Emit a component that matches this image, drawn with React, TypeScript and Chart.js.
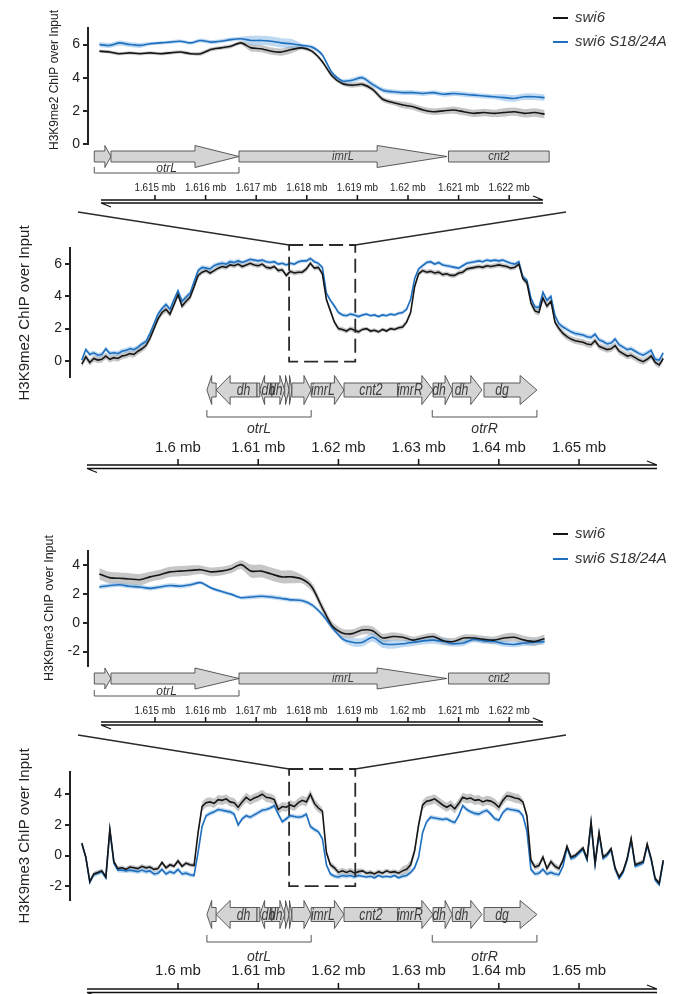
import React, { useEffect, useRef } from "react";
import { Chart, registerables } from "chart.js";

Chart.register(...registerables);

// ---------------------------------------------------------------------------
// Data
// ---------------------------------------------------------------------------
const SERIES_LABELS = ["swi6", "swi6 S18/24A"];

// Genomic bins (kb on chromosome)
const ZOOM_BIN_START_KB = 1613.9;
const ZOOM_BIN_KB = 0.2;
const WIDE_BIN_START_KB = 1588.0;
const WIDE_BIN_KB = 0.5;

// H3K9me2, zoomed window (otrL / imrL / cnt2 junction)
const ME2_ZOOM_SWI6 = [
  5.6, 5.55, 5.45, 5.5, 5.45, 5.5, 5.45, 5.5, 5.55, 5.45,
  5.45, 5.7, 5.8, 5.9, 6.1, 5.8, 5.75, 5.6, 5.55, 5.7,
  5.8, 5.6, 5.0, 4.1, 3.65, 3.55, 3.6, 3.3, 2.7, 2.5,
  2.35, 2.25, 2.05, 1.95, 2.0, 2.05, 1.95, 1.85, 1.9, 1.85,
  1.9, 1.95, 1.85, 1.9, 1.8,
];
const ME2_ZOOM_S1824A = [
  6.0, 5.95, 6.1, 6.0, 5.95, 6.05, 6.1, 6.15, 6.2, 6.1,
  6.25, 6.15, 6.2, 6.3, 6.35, 6.25, 6.25, 6.2, 6.1, 6.05,
  5.95, 5.85, 5.4, 4.3, 3.8, 3.85, 4.0, 3.6, 3.25, 3.15,
  3.1, 3.1, 3.05, 3.1, 3.0, 3.05, 3.0, 2.95, 2.9, 2.85,
  2.8, 2.75, 2.85, 2.85, 2.8,
];
const ME2_ZOOM_SWI6_SE = [0.1, 0.1, 0.12, 0.22, 0.12, 0.15, 0.2, 0.22, 0.25];
const ME2_ZOOM_S1824A_SE = [0.15, 0.1, 0.12, 0.28, 0.12, 0.15, 0.15, 0.15, 0.2];

// H3K9me2, whole centromere 2 left/right region
const ME2_WIDE_SWI6 = [
  -0.2, 0.25, -0.1, 0.15, 0.05, 0.1, 0.3, 0.1, 0.2, 0.15,
  0.3, 0.35, 0.45, 0.4, 0.6, 0.75, 0.95, 1.4, 2.0, 2.6,
  3.0, 3.2, 2.9, 3.5, 4.1, 3.4, 3.7, 3.95, 4.6, 5.3,
  5.5, 5.6, 5.45, 5.6, 5.75, 5.85, 5.8, 5.95, 5.9, 6.0,
  5.85, 5.95, 6.05, 5.95, 5.9, 6.0, 5.8, 5.75, 5.85, 5.6,
  5.65, 5.3, 5.55, 5.45, 5.5, 5.5, 5.7, 6.05, 5.75, 5.8,
  5.4, 3.8, 3.1, 2.4, 2.0, 1.95, 1.85, 2.0, 1.9, 1.8,
  1.95, 2.0, 1.85, 1.9, 1.8, 1.95, 1.85, 2.0, 1.95, 2.05,
  2.1, 2.4, 3.0, 4.6, 5.4, 5.6, 5.5, 5.55, 5.45, 5.5,
  5.35, 5.4, 5.3, 5.3, 5.45, 5.5, 5.7, 5.75, 5.8, 5.85,
  5.8, 5.9, 5.85, 5.9, 5.95, 5.9, 5.85, 5.75, 5.8, 6.0,
  5.1, 4.85, 3.6, 3.1, 3.0, 3.9, 3.4, 3.7, 2.4, 2.0,
  1.7, 1.5, 1.35, 1.25, 1.2, 1.15, 1.05, 1.0, 1.25, 0.9,
  0.8, 0.7, 0.75, 0.95, 0.6, 0.45, 0.3, 0.35, 0.2, 0.05,
  -0.05, 0.1, 0.3, -0.1, -0.25, 0.15,
];
const ME2_WIDE_S1824A = [
  0.05, 0.7, 0.4, 0.5, 0.35, 0.4, 0.75, 0.45, 0.5, 0.45,
  0.6, 0.65, 0.75, 0.7, 0.85, 1.05, 1.2, 1.7, 2.3, 2.9,
  3.25, 3.5, 3.2, 3.8, 4.35, 3.7, 3.95, 4.2, 4.9, 5.6,
  5.8, 5.75, 5.7, 5.9, 6.0, 6.05, 6.0, 6.15, 6.1, 6.2,
  6.1, 6.2, 6.3, 6.25, 6.2, 6.25, 6.15, 6.1, 6.15, 6.0,
  6.05, 5.95, 6.05, 6.0, 6.15, 6.2, 6.2, 6.35, 6.15, 6.05,
  5.8, 4.2, 3.75, 3.4, 3.0, 2.85, 2.8, 2.9, 2.85, 2.75,
  2.85, 2.9, 2.8, 2.85, 2.75, 2.85, 2.8, 2.9, 2.85, 2.95,
  3.0, 3.2, 3.8, 5.1, 5.7, 5.9, 6.1, 6.15, 6.0, 6.1,
  5.95, 5.9, 5.85, 5.8, 5.75, 5.9, 6.05, 6.1, 6.15, 6.2,
  6.15, 6.25, 6.2, 6.25, 6.2, 6.25, 6.15, 6.05, 6.0, 6.15,
  5.2, 5.0, 3.9, 3.35, 3.3, 4.25, 3.75, 4.0, 2.8, 2.3,
  2.1, 1.95, 1.8, 1.7, 1.65, 1.6, 1.5, 1.45, 1.65, 1.3,
  1.2, 1.05, 1.1, 1.35, 1.0, 0.85, 0.7, 0.75, 0.6, 0.45,
  0.35, 0.5, 0.65, 0.1, 0.05, 0.5,
];
const ME2_WIDE_SWI6_SE = [0.2, 0.2, 0.2, 0.15, 0.15, 0.15, 0.15, 0.12, 0.15, 0.15, 0.15, 0.2, 0.2, 0.2, 0.2];
const ME2_WIDE_S1824A_SE = [0.15, 0.15, 0.15, 0.15, 0.12, 0.12, 0.12, 0.1, 0.12, 0.12, 0.12, 0.15, 0.15, 0.15, 0.15];

// H3K9me3, zoomed window
const ME3_ZOOM_SWI6 = [
  3.4, 3.15, 3.1, 3.05, 3.0, 3.2, 3.35, 3.55, 3.6, 3.65,
  3.7, 3.55, 3.6, 3.75, 4.05, 3.6, 3.6, 3.4, 3.2, 3.2,
  3.05, 2.5, 1.1, -0.2, -0.7, -0.75, -0.5, -0.55, -1.05, -0.95,
  -1.0, -1.2, -1.05, -0.95, -1.25, -1.3, -1.05, -1.05, -1.15, -1.2,
  -1.05, -1.0, -1.2, -1.3, -1.1,
];
const ME3_ZOOM_S1824A = [
  2.5, 2.6, 2.65, 2.55, 2.5, 2.4, 2.5, 2.6, 2.55, 2.65,
  2.8, 2.45, 2.2, 2.0, 1.75, 1.8, 1.85, 1.8, 1.7, 1.6,
  1.55, 1.25, 0.6, -0.3, -1.1, -1.35, -1.35, -1.0, -1.45, -1.5,
  -1.45, -1.35, -1.25, -1.2, -1.3, -1.45, -1.4, -1.15, -1.25, -1.3,
  -1.45, -1.5, -1.4, -1.35, -1.3,
];
const ME3_ZOOM_SWI6_SE = [0.4, 0.35, 0.3, 0.45, 0.3, 0.3, 0.25, 0.25, 0.3];
const ME3_ZOOM_S1824A_SE = [0.15, 0.15, 0.12, 0.15, 0.15, 0.3, 0.25, 0.2, 0.2];

// H3K9me3, whole region
const ME3_WIDE_SWI6 = [
  0.8, -0.1, -1.7, -1.2, -1.1, -1.0, -1.4, 1.7, -0.4, -0.85,
  -0.8, -0.9, -0.75, -0.8, -0.85, -0.7, -0.8, -0.75, -0.9, -0.85,
  -0.45, -0.8, -0.6, -0.7, -0.35, -0.7, -0.5, -0.6, -0.65, 1.5,
  3.2, 3.45, 3.5, 3.4, 3.65, 3.6, 3.7, 3.5, 3.45, 3.15,
  3.5, 3.8, 3.6, 3.75, 3.85, 4.0, 3.8, 3.75, 3.65, 3.0,
  3.2, 3.15, 3.3, 3.2, 3.45, 3.6, 3.5, 4.0, 3.4, 3.1,
  2.9, 0.2, -0.6, -0.8, -1.1, -1.0, -1.1, -1.0, -1.15, -1.05,
  -1.0, -1.15, -1.1, -1.2, -1.05, -1.15, -1.0, -1.1, -1.05, -1.15,
  -1.0, -0.9, -0.6, 0.3, 2.0, 3.3, 3.55, 3.6, 3.7, 3.5,
  3.3, 3.15, 3.3, 3.05, 3.4, 3.8, 3.7, 3.75, 3.6, 3.65,
  3.5, 3.6, 3.55, 3.4, 3.15, 3.6, 3.9, 3.85, 3.75, 3.7,
  3.5, 2.6, -0.3, -0.75, -0.65, -0.1, -0.85, -0.4, -0.7, -0.85,
  -0.3, 0.6, -0.1, 0.0, 0.25, 0.5, -0.2, 2.2, -0.5, 1.5,
  -0.1, 0.1, 0.45, -0.8, -1.4, -1.0, -0.2, 1.1, -0.6, -0.5,
  -0.4, 0.75, -0.2, -1.5, -1.8, -0.3,
];
const ME3_WIDE_S1824A = [
  0.8, -0.1, -1.75, -1.25, -1.15, -1.05, -1.45, 1.65, -0.5, -0.95,
  -0.95, -1.0, -0.95, -1.0, -1.05, -0.95, -1.05, -1.0, -1.2, -1.15,
  -0.9, -1.2, -1.05, -1.15, -0.9, -1.2, -1.15, -1.25, -1.3, 0.2,
  1.9, 2.6, 2.75, 2.85, 3.0, 2.95, 2.9, 2.85, 2.7, 2.0,
  2.4, 2.6, 2.5, 2.65, 2.8, 2.95, 3.0, 3.1, 3.25, 2.7,
  2.2, 2.4, 2.6, 2.55, 2.5, 2.55, 2.7, 1.9, 1.7, 1.55,
  1.1, -0.6, -1.2, -1.35, -1.4, -1.3, -1.35, -1.3, -1.4, -1.3,
  -1.35, -1.4, -1.35, -1.45, -1.3, -1.4, -1.35, -1.4, -1.3, -1.45,
  -1.35, -1.3, -1.1, -0.8, -0.1, 1.5, 2.2, 2.5, 2.45, 2.4,
  2.35, 2.4, 2.25, 2.15, 2.6, 3.25, 3.0, 2.85, 2.75, 2.7,
  2.85, 2.95, 2.7, 2.4, 2.3, 2.8, 3.05, 3.0, 2.95, 2.9,
  2.6, 1.6, -0.9, -1.2, -1.15, -0.9, -1.2, -1.1, -1.2, -1.25,
  -0.7, 0.5, -0.2, -0.1, 0.15, 0.4, -0.3, 2.1, -0.6, 1.4,
  -0.2, 0.0, 0.35, -0.9, -1.5, -1.1, -0.3, 1.0, -0.7, -0.6,
  -0.5, 0.65, -0.3, -1.6, -1.9, -0.4,
];
const ME3_WIDE_SWI6_SE = [0.15, 0.15, 0.15, 0.3, 0.3, 0.3, 0.2, 0.15, 0.3, 0.3, 0.3, 0.2, 0.15, 0.15, 0.15];
const ME3_WIDE_S1824A_SE = [0.15, 0.15, 0.15, 0.15, 0.15, 0.15, 0.15, 0.12, 0.15, 0.15, 0.15, 0.15, 0.15, 0.15, 0.15];

// Axis ticks
const ZOOM_TICKS_KB = [1615, 1616, 1617, 1618, 1619, 1620, 1621, 1622];
const WIDE_TICKS_KB = [1600, 1610, 1620, 1630, 1640, 1650];
const ME2_Y_TICKS = [0, 2, 4, 6];
const ME3_Y_TICKS = [-2, 0, 2, 4];

// Repeat / feature annotation (kb); strand 1 = right, -1 = left, 0 = block
const ZOOM_FEATURES = [
  { start: 1613.8, end: 1614.13, strand: 1, head: 0.12, label: "" },
  { start: 1614.13, end: 1616.66, strand: 1, head: 0.87, label: "" },
  { start: 1616.66, end: 1620.77, strand: 1, head: 1.38, label: "imrL" },
  { start: 1620.8, end: 1622.79, strand: 0, head: 0, label: "cnt2" },
];
const WIDE_FEATURES = [
  { start: 1603.6, end: 1604.75, strand: -1, head: 0.6, label: "" },
  { start: 1604.75, end: 1609.85, strand: -1, head: 1.75, label: "dh" },
  { start: 1609.85, end: 1610.2, strand: 0, head: 0, label: "" },
  { start: 1610.2, end: 1611.7, strand: -1, head: 0.6, label: "dh" },
  { start: 1611.7, end: 1613.3, strand: 1, head: 0.6, label: "dh" },
  { start: 1613.3, end: 1613.85, strand: 1, head: 0.45, label: "" },
  { start: 1613.85, end: 1614.2, strand: 1, head: 0.3, label: "" },
  { start: 1614.2, end: 1616.6, strand: 1, head: 0.9, label: "" },
  { start: 1616.6, end: 1620.7, strand: 1, head: 1.2, label: "imrL" },
  { start: 1620.7, end: 1627.4, strand: 0, head: 0, label: "cnt2" },
  { start: 1627.4, end: 1631.8, strand: 1, head: 1.4, label: "imrR" },
  { start: 1631.8, end: 1634.2, strand: 1, head: 0.9, label: "dh" },
  { start: 1634.2, end: 1637.9, strand: 1, head: 1.4, label: "dh" },
  { start: 1638.15, end: 1644.75, strand: 1, head: 2.1, label: "dg" },
];
const ZOOM_BRACKETS = [{ start: 1613.8, end: 1616.66, label: "otrL" }];
const WIDE_BRACKETS = [
  { start: 1603.6, end: 1616.6, label: "otrL" },
  { start: 1631.7, end: 1644.75, label: "otrR" },
];
const ZOOM_WINDOW_KB = [1613.85, 1622.1];

// ---------------------------------------------------------------------------
// Styling
// ---------------------------------------------------------------------------
const SANS = "'Liberation Sans', Arial, Helvetica, sans-serif";
const LINE_COLORS = ["#161616", "#1f6fbf"];
const BAND_COLORS = ["rgba(120,120,120,0.42)", "rgba(110,170,225,0.45)"];
const FAN_LEFT_X = 78;
const FAN_RIGHT_X = 566;

const PANELS: any[] = [
  {
    key: "me2zoom", kind: "zoom", title: "H3K9me2 ChIP over Input",
    top: 0, height: 208, axisX: 88, plotRight: 548, plotTop: 28, plotBottom: 144,
    xMin: 1613.676, xMax: 1622.767, yMin: 0, yMax: 7, yTicks: ME2_Y_TICKS,
    series: [ME2_ZOOM_SWI6, ME2_ZOOM_S1824A], se: [ME2_ZOOM_SWI6_SE, ME2_ZOOM_S1824A_SE],
    binStart: ZOOM_BIN_START_KB, binKb: ZOOM_BIN_KB, tension: 0.25,
    titleX: 55, titleY: 80, titleSize: 12,
    features: ZOOM_FEATURES, brackets: ZOOM_BRACKETS,
    trackY: 156.5, boxHalf: 5.5, headHalf: 11, bracketY: 173, bracketTick: 6, bracketLabelY: 172,
    featureFont: `italic 12.5px ${SANS}`, featureStretch: 0.9, bracketFont: `italic 12px ${SANS}`,
    rulerY: 200, rulerLabelY: 187.5, rulerLeft: 101, rulerRight: 543, railGap: 3, tickLen: 5,
    ticks: ZOOM_TICKS_KB, tickFont: `11.5px ${SANS}`, tickStretch: 0.86, legendRows: [18, 42],
  },
  {
    key: "me2wide", kind: "wide", title: "H3K9me2 ChIP over Input",
    top: 208, height: 272, axisX: 70, plotRight: 665, plotTop: 40, plotBottom: 169,
    xMin: 1586.53, xMax: 1660.72, yMin: -1, yMax: 7, yTicks: ME2_Y_TICKS,
    series: [ME2_WIDE_SWI6, ME2_WIDE_S1824A], se: [ME2_WIDE_SWI6_SE, ME2_WIDE_S1824A_SE],
    binStart: WIDE_BIN_START_KB, binKb: WIDE_BIN_KB, tension: 0,
    titleX: 25, titleY: 105, titleSize: 15,
    features: WIDE_FEATURES, brackets: WIDE_BRACKETS,
    trackY: 182, boxHalf: 7, headHalf: 14.5, bracketY: 209, bracketTick: 7, bracketLabelY: 225,
    featureFont: `italic 17px ${SANS}`, featureStretch: 0.72, bracketFont: `italic 14px ${SANS}`,
    rulerY: 257, rulerLabelY: 240, rulerLeft: 87, rulerRight: 657, railGap: 3.5, tickLen: 6,
    ticks: WIDE_TICKS_KB, tickFont: `15px ${SANS}`, tickStretch: 1,
    fanTopY: 4, boxFloor: -0.05,
  },
  {
    key: "me3zoom", kind: "zoom", title: "H3K9me3 ChIP over Input",
    top: 480, height: 250, axisX: 88, plotRight: 548, plotTop: 71, plotBottom: 186,
    xMin: 1613.676, xMax: 1622.767, yMin: -3, yMax: 5, yTicks: ME3_Y_TICKS,
    series: [ME3_ZOOM_SWI6, ME3_ZOOM_S1824A], se: [ME3_ZOOM_SWI6_SE, ME3_ZOOM_S1824A_SE],
    binStart: ZOOM_BIN_START_KB, binKb: ZOOM_BIN_KB, tension: 0.25,
    titleX: 50, titleY: 128, titleSize: 12.5,
    features: ZOOM_FEATURES, brackets: ZOOM_BRACKETS,
    trackY: 198.5, boxHalf: 5.5, headHalf: 10.5, bracketY: 216, bracketTick: 6, bracketLabelY: 215,
    featureFont: `italic 12.5px ${SANS}`, featureStretch: 0.9, bracketFont: `italic 12px ${SANS}`,
    rulerY: 242, rulerLabelY: 231, rulerLeft: 101, rulerRight: 543, railGap: 3, tickLen: 5,
    ticks: ZOOM_TICKS_KB, tickFont: `11.5px ${SANS}`, tickStretch: 0.86, legendRows: [54, 79],
  },
  {
    key: "me3wide", kind: "wide", title: "H3K9me3 ChIP over Input",
    top: 730, height: 264, axisX: 70, plotRight: 665, plotTop: 42, plotBottom: 170,
    xMin: 1586.53, xMax: 1660.72, yMin: -2.9, yMax: 5.45, yTicks: ME3_Y_TICKS,
    series: [ME3_WIDE_SWI6, ME3_WIDE_S1824A], se: [ME3_WIDE_SWI6_SE, ME3_WIDE_S1824A_SE],
    binStart: WIDE_BIN_START_KB, binKb: WIDE_BIN_KB, tension: 0,
    titleX: 25, titleY: 106, titleSize: 15,
    features: WIDE_FEATURES, brackets: WIDE_BRACKETS,
    trackY: 184.5, boxHalf: 7, headHalf: 14, bracketY: 212, bracketTick: 7, bracketLabelY: 231,
    featureFont: `italic 17px ${SANS}`, featureStretch: 0.72, bracketFont: `italic 14px ${SANS}`,
    rulerY: 259, rulerLabelY: 241, rulerLeft: 87, rulerRight: 657, railGap: 3.5, tickLen: 6,
    ticks: WIDE_TICKS_KB, tickFont: `15px ${SANS}`, tickStretch: 1,
    fanTopY: 5, boxFloor: -2.0,
  },
];

const Y_AXIS_BOX = 40;

function expandSe(coarse: number[], n: number): number[] {
  const group = Math.ceil(n / coarse.length);
  return Array.from({ length: n }, (_, i) => coarse[Math.min(coarse.length - 1, Math.floor(i / group))]);
}

function buildDatasets(p: any) {
  const xAt = (i: number) => p.binStart + i * p.binKb;
  const lines = p.series.map((vals: number[], k: number) => ({
    label: SERIES_LABELS[k],
    data: vals.map((v, i) => ({ x: xAt(i), y: v })),
    borderColor: LINE_COLORS[k],
    backgroundColor: LINE_COLORS[k],
    borderWidth: 1.6,
    pointRadius: 0,
    tension: p.tension,
    fill: false,
  }));
  const bands: any[] = [];
  [1, 0].forEach((k) => {
    const vals: number[] = p.series[k];
    const se = expandSe(p.se[k], vals.length);
    bands.push({
      label: "",
      band: true,
      data: vals.map((v, i) => ({ x: xAt(i), y: v + se[i] })),
      borderWidth: 0,
      borderColor: "rgba(0,0,0,0)",
      pointRadius: 0,
      tension: p.tension,
      fill: false,
    });
    bands.push({
      label: "",
      band: true,
      data: vals.map((v, i) => ({ x: xAt(i), y: v - se[i] })),
      borderWidth: 0,
      borderColor: "rgba(0,0,0,0)",
      backgroundColor: BAND_COLORS[k],
      pointRadius: 0,
      tension: p.tension,
      fill: "-1",
    });
  });
  return [...lines, ...bands];
}

// text drawn with a horizontal squeeze (condensed face substitute)
function fillStretched(ctx: CanvasRenderingContext2D, text: string, x: number, y: number, sx: number) {
  ctx.save();
  ctx.translate(x, y);
  ctx.scale(sx, 1);
  ctx.fillText(text, 0, 0);
  ctx.restore();
}

function drawFeature(ctx: CanvasRenderingContext2D, x0: number, x1: number, strand: number, head: number, y: number, b: number, h: number) {
  ctx.beginPath();
  if (strand === 1) {
    const hb = x1 - head;
    ctx.moveTo(x0, y - b);
    ctx.lineTo(hb, y - b);
    ctx.lineTo(hb, y - h);
    ctx.lineTo(x1, y);
    ctx.lineTo(hb, y + h);
    ctx.lineTo(hb, y + b);
    ctx.lineTo(x0, y + b);
    ctx.closePath();
  } else if (strand === -1) {
    const hb = x0 + head;
    ctx.moveTo(x1, y - b);
    ctx.lineTo(hb, y - b);
    ctx.lineTo(hb, y - h);
    ctx.lineTo(x0, y);
    ctx.lineTo(hb, y + h);
    ctx.lineTo(hb, y + b);
    ctx.lineTo(x1, y + b);
    ctx.closePath();
  } else {
    ctx.rect(x0, y - b, x1 - x0, 2 * b);
  }
  ctx.fillStyle = "#d4d4d4";
  ctx.fill();
  ctx.strokeStyle = "#4a4a4a";
  ctx.lineWidth = 0.9;
  ctx.stroke();
}

function makeOverlay(p: any) {
  return {
    id: "overlay_" + p.key,
    afterDraw(chart: any) {
      const ctx: CanvasRenderingContext2D = chart.ctx;
      const xs = chart.scales.x;
      const ys = chart.scales.y;
      const area = chart.chartArea;
      const px = (kb: number) => xs.getPixelForValue(kb);

      // y-axis title
      ctx.save();
      ctx.fillStyle = "#222";
      ctx.font = `${p.titleSize}px ${SANS}`;
      ctx.textAlign = "center";
      ctx.textBaseline = "middle";
      ctx.translate(p.titleX, p.titleY);
      ctx.rotate(-Math.PI / 2);
      ctx.fillText(p.title, 0, 0);
      ctx.restore();

      // repeat annotation track
      ctx.save();
      for (const f of p.features) {
        const x0 = px(f.start);
        const x1 = px(f.end);
        const head = f.strand ? Math.abs(px(f.start + f.head) - px(f.start)) : 0;
        drawFeature(ctx, x0, x1, f.strand, head, p.trackY, p.boxHalf, p.headHalf);
      }
      ctx.fillStyle = "#3c3c3c";
      ctx.font = p.featureFont;
      ctx.textAlign = "center";
      ctx.textBaseline = "middle";
      for (const f of p.features) {
        if (!f.label) continue;
        const x0 = px(f.start);
        const x1 = px(f.end);
        const head = f.strand ? Math.abs(px(f.start + f.head) - px(f.start)) : 0;
        let cx = (x0 + x1) / 2;
        if (p.kind === "wide") {
          if (f.strand === 1) cx = (x0 + x1 - head) / 2;
          else if (f.strand === -1) cx = (x0 + head + x1) / 2;
        }
        fillStretched(ctx, f.label, cx, p.trackY + 0.5, p.featureStretch);
      }

      // region brackets
      ctx.strokeStyle = "#555";
      ctx.lineWidth = 1;
      for (const br of p.brackets) {
        const x0 = px(br.start);
        const x1 = px(br.end);
        ctx.beginPath();
        ctx.moveTo(x0, p.bracketY - p.bracketTick);
        ctx.lineTo(x0, p.bracketY);
        ctx.lineTo(x1, p.bracketY);
        ctx.lineTo(x1, p.bracketY - p.bracketTick);
        ctx.stroke();
      }
      ctx.fillStyle = "#333";
      ctx.font = p.bracketFont;
      ctx.textBaseline = "alphabetic";
      for (const br of p.brackets) {
        ctx.fillText(br.label, (px(br.start) + px(br.end)) / 2, p.bracketLabelY);
      }
      ctx.restore();

      // chromosome coordinate ruler
      ctx.save();
      const y0 = p.rulerY;
      const y1 = p.rulerY + p.railGap;
      ctx.strokeStyle = "#111";
      ctx.lineWidth = 1.3;
      ctx.beginPath();
      ctx.moveTo(p.rulerLeft, y0);
      ctx.lineTo(p.rulerRight, y0);
      ctx.moveTo(p.rulerLeft, y1);
      ctx.lineTo(p.rulerRight, y1);
      ctx.moveTo(p.rulerRight, y0);
      ctx.lineTo(p.rulerRight - 10, y0 - 4);
      ctx.moveTo(p.rulerLeft, y1);
      ctx.lineTo(p.rulerLeft + 10, y1 + 4);
      ctx.stroke();
      ctx.lineWidth = 1.5;
      ctx.beginPath();
      for (const t of p.ticks) {
        const x = px(t);
        ctx.moveTo(x, y0);
        ctx.lineTo(x, y0 - p.tickLen);
      }
      ctx.stroke();
      ctx.fillStyle = "#222";
      ctx.font = p.tickFont;
      ctx.textAlign = "center";
      ctx.textBaseline = "middle";
      for (const t of p.ticks) {
        fillStretched(ctx, `${t / 1000} mb`, px(t), p.rulerLabelY, p.tickStretch);
      }
      ctx.restore();

      // legend
      if (p.legendRows) {
        ctx.save();
        const lines = chart.data.datasets.filter((d: any) => !d.band);
        lines.forEach((d: any, k: number) => {
          const y = p.legendRows[k];
          ctx.strokeStyle = d.borderColor;
          ctx.lineWidth = 2;
          ctx.beginPath();
          ctx.moveTo(553, y);
          ctx.lineTo(568, y);
          ctx.stroke();
          ctx.fillStyle = "#333";
          ctx.font = `italic 15px ${SANS}`;
          ctx.textAlign = "left";
          ctx.textBaseline = "middle";
          ctx.fillText(d.label, 575, y);
        });
        ctx.restore();
      }

      // zoom window box and connecting fan
      if (p.kind === "wide") {
        ctx.save();
        const bx0 = px(ZOOM_WINDOW_KB[0]);
        const bx1 = px(ZOOM_WINDOW_KB[1]);
        const by0 = area.top - 3;
        const by1 = ys.getPixelForValue(p.boxFloor);
        ctx.strokeStyle = "#2a2a2a";
        ctx.lineWidth = 1.8;
        ctx.setLineDash([14, 6]);
        ctx.strokeRect(bx0, by0, bx1 - bx0, by1 - by0);
        ctx.setLineDash([]);
        ctx.lineWidth = 1.4;
        ctx.beginPath();
        ctx.moveTo(FAN_LEFT_X, p.fanTopY);
        ctx.lineTo(bx0, by0);
        ctx.moveTo(FAN_RIGHT_X, p.fanTopY);
        ctx.lineTo(bx1, by0);
        ctx.stroke();
        ctx.restore();
      }
    },
  };
}

function Panel({ p }: { p: any }) {
  const ref = useRef<HTMLCanvasElement>(null);
  useEffect(() => {
    if (!ref.current) return;
    const chart = new Chart(ref.current, {
      type: "line",
      data: { datasets: buildDatasets(p) as any },
      options: {
        responsive: false,
        animation: false,
        devicePixelRatio: 1,
        layout: {
          padding: {
            left: p.axisX - Y_AXIS_BOX,
            right: 690 - p.plotRight,
            top: p.plotTop,
            bottom: p.height - p.plotBottom,
          },
        },
        plugins: {
          legend: { display: false },
          tooltip: { enabled: false },
          filler: { propagate: false },
        },
        scales: {
          x: { type: "linear", min: p.xMin, max: p.xMax, display: false },
          y: {
            type: "linear",
            min: p.yMin,
            max: p.yMax,
            afterBuildTicks: (axis: any) => {
              axis.ticks = p.yTicks.map((v: number) => ({ value: v }));
            },
            afterFit: (axis: any) => {
              axis.width = Y_AXIS_BOX;
            },
            grid: {
              display: true,
              drawOnChartArea: false,
              drawTicks: true,
              tickLength: 5,
              color: "#222",
              lineWidth: 2,
            },
            border: { display: true, color: "#222", width: 2 },
            ticks: {
              autoSkip: false,
              padding: 3,
              color: "#222",
              font: { family: SANS, size: 14 },
            },
          },
        },
      } as any,
      plugins: [makeOverlay(p)],
    });
    return () => chart.destroy();
  }, []);
  return (
    <canvas
      ref={ref}
      width={690}
      height={p.height}
      style={{ position: "absolute", left: 0, top: p.top, width: 690, height: p.height }}
    />
  );
}

export default function App() {
  return (
    <div style={{ position: "absolute", left: 0, top: 0, width: 690, height: 994, background: "#fff", overflow: "hidden" }}>
      {PANELS.map((p) => (
        <Panel key={p.key} p={p} />
      ))}
    </div>
  );
}
